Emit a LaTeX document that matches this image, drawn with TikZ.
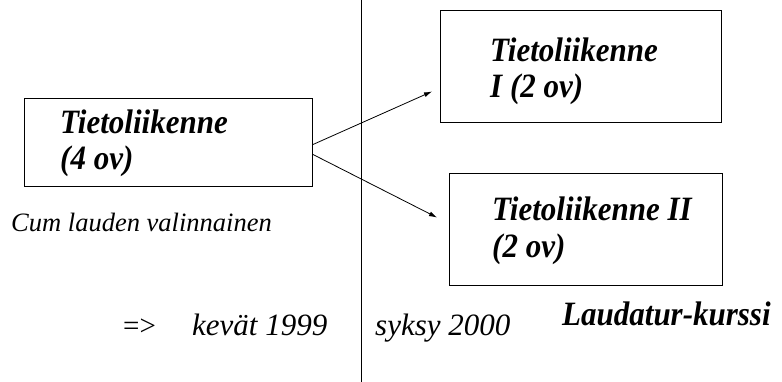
\documentclass[tikz,border=0pt]{standalone}
\usepackage{fontspec}
\setmainfont{Liberation Serif}
\usetikzlibrary{arrows.meta}
\newcommand{\korkea}[1]{\scalebox{1}[1.1]{#1}}
\tikzset{
  kurssi/.style={draw,black,line width=1pt,anchor=north west,inner sep=0pt},
  rivi/.style={anchor=base west,inner sep=0pt,font=\fontsize{31}{36}\selectfont\bfseries\itshape},
  huom/.style={anchor=base west,inner sep=0pt,font=\fontsize{#1}{36}\selectfont\itshape},
  nuoli/.style={-{Latex[length=8pt,width=5pt]},line width=0.8pt}
}
\begin{document}
\begin{tikzpicture}[x=1pt,y=-1pt]
    \useasboundingbox (0,0) rectangle (782,382);
    \draw[line width=1pt] (361,0) -- (361,382);
    \node[kurssi,minimum width=288pt,minimum height=88pt] (vanha) at (24,98) {};
    \node[kurssi,minimum width=281pt,minimum height=112pt] (osa1) at (440,10) {};
    \node[kurssi,minimum width=273pt,minimum height=112pt] (osa2) at (449,173) {};
    \node[rivi] (vanha1) at (60,134) {\korkea{Tietoliikenne}};
    \node[rivi] (vanha2) at (60,170) {\korkea{(4 ov)}};
    \node[rivi] (osa1a) at (490,62) {\korkea{Tietoliikenne}};
    \node[rivi] (osa1b) at (490,98) {\korkea{I (2 ov)}};
    \node[rivi] (osa2a) at (492,221) {\korkea{Tietoliikenne II}};
    \node[rivi] (osa2b) at (492,258) {\korkea{(2 ov)}};
    \node[huom=26.5] (cumlaude) at (11,232) {Cum lauden valinnainen};
    \node[anchor=base west,inner sep=0pt,font=\fontsize{29}{36}\selectfont] (nuolimerkki) at (123,335) {=>};
    \node[huom=31] (kevat) at (192,335) {kevät 1999};
    \node[huom=31] (syksy) at (375,335) {syksy 2000};
    \node[rivi] (laudatur) at (562,325) {\korkea{Laudatur-kurssi}};
    \draw[nuoli] ([yshift=-2pt]vanha.east) -- ([xshift=-8pt,yshift=-25pt]osa1.west);
    \draw[nuoli] ([yshift=-12pt]vanha.east) -- ([xshift=-12pt,yshift=12pt]osa2.west);
  \end{tikzpicture}
\end{document}
